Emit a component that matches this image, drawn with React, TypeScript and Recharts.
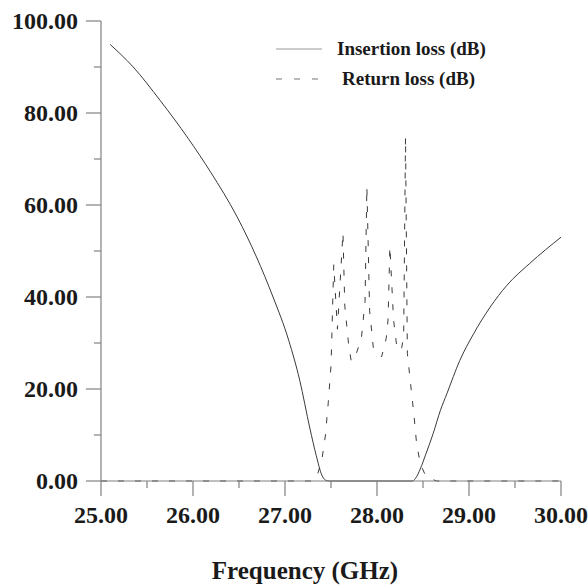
import React from "react";
import { LineChart, Line, XAxis, YAxis } from "recharts";

// insertion loss (solid)
const ilFreq = [25.1, 25.35, 25.64, 25.95, 26.19, 26.48, 26.69, 26.87, 27.04, 27.16, 27.27, 27.34, 27.4, 27.44, 27.48, 28.38, 28.42, 28.47, 28.53, 28.61, 28.69, 28.76, 28.9, 29.05, 29.23, 29.41, 29.66, 30.0];
const ilLoss = [94.9, 90.0, 82.8, 74.4, 67.2, 57.4, 48.7, 40.0, 30.6, 21.9, 11.5, 5.5, 1.3, 0.2, 0, 0, 0.6, 2.6, 5.8, 10.3, 15.4, 19.0, 26.2, 32.0, 37.8, 42.5, 47.3, 53.0];

// return loss (dashed)
const rlFreq = [25.0, 27.3, 27.35, 27.4, 27.44, 27.47, 27.5, 27.51, 27.52, 27.53, 27.57, 27.63, 27.65, 27.69, 27.72, 27.78, 27.83, 27.87, 27.89, 27.92, 27.96, 28.05, 28.1, 28.12, 28.14, 28.18, 28.22, 28.27, 28.29, 28.31, 28.33, 28.34, 28.36, 28.4, 28.43, 28.47, 28.52, 28.58, 28.65, 30.0];
const rlLoss = [0, 0, 1.2, 4.5, 10, 17, 25, 32, 40, 47, 33, 54, 38, 30, 26, 28, 31, 39, 64, 37, 29, 27, 31, 35, 51, 35, 28.4, 29, 32, 74.8, 27.7, 26, 22, 14.7, 8.2, 3.8, 1.5, 0.5, 0, 0];

const xTicks = [25, 25.5, 26, 26.5, 27, 27.5, 28, 28.5, 29, 29.5, 30];
const yTicks = [0, 10, 20, 30, 40, 50, 60, 70, 80, 90, 100];

const legendNames = ["Insertion loss (dB)", "Return loss (dB)"];

const insertionData = ilFreq.map((f, i) => ({ f, db: ilLoss[i] }));
const returnData = rlFreq.map((f, i) => ({ f, db: rlLoss[i] }));

const FONT = "'Liberation Serif', 'Times New Roman', serif";
const AXIS = "#808080";
const INK = "#1a1a1a";
const CURVE = "#3a3a3a";

const YTick = (props: any) => {
    const { x, y, payload } = props;
    const major = payload.value % 20 === 0;
    return (
        <g>
            <line x1={x - (major ? 15 : 7)} x2={x} y1={y} y2={y} stroke={AXIS} strokeWidth={1.2} />
            {major && (
                <text x={x - 23} y={y + 8} textAnchor="end" fill={INK}
                    style={{ fontFamily: FONT, fontWeight: 700, fontSize: 24 }}>
                    {payload.value.toFixed(2)}
                </text>
            )}
        </g>
    );
};

const XTick = (props: any) => {
    const { x, y, payload } = props;
    const major = Number.isInteger(payload.value);
    return (
        <g>
            <line x1={x} x2={x} y1={y} y2={y + (major ? 15 : 7)} stroke={AXIS} strokeWidth={1.2} />
            {major && (
                <text x={x} y={y + 42} textAnchor="middle" fill={INK}
                    style={{ fontFamily: FONT, fontWeight: 700, fontSize: 24 }}>
                    {payload.value.toFixed(2)}
                </text>
            )}
        </g>
    );
};

const AxisTitle = (props: any) => {
    const { viewBox } = props;
    return (
        <text x={viewBox.x + viewBox.width / 2 - 26} y={viewBox.y + 98} textAnchor="middle" fill={INK}
            style={{ fontFamily: FONT, fontWeight: 700, fontSize: 25 }}>
            Frequency (GHz)
        </text>
    );
};

export default function App() {
    return (
        <div style={{ position: "absolute", left: 0, top: 0, width: 588, height: 588, background: "#fff" }}>
            <LineChart width={588} height={588} margin={{ top: 21, right: 27, bottom: 0, left: 0 }}>
                <XAxis
                    dataKey="f"
                    type="number"
                    domain={[25, 30]}
                    ticks={xTicks}
                    interval={0}
                    height={107}
                    tickSize={0}
                    tickMargin={0}
                    axisLine={{ stroke: AXIS, strokeWidth: 1.2 }}
                    tickLine={false}
                    tick={<XTick />}
                    label={<AxisTitle />}
                    allowDataOverflow
                />
                <YAxis
                    type="number"
                    domain={[0, 100]}
                    ticks={yTicks}
                    interval={0}
                    width={101}
                    tickSize={0}
                    tickMargin={0}
                    axisLine={{ stroke: AXIS, strokeWidth: 1.2 }}
                    tickLine={false}
                    tick={<YTick />}
                />
                <Line data={returnData} dataKey="db" type="linear" stroke={CURVE} strokeWidth={1}
                    strokeDasharray="6 11" dot={false} activeDot={false} isAnimationActive={false} />
                <Line data={insertionData} dataKey="db" type="monotone" stroke={CURVE} strokeWidth={1}
                    dot={false} activeDot={false} isAnimationActive={false} />
            </LineChart>
            <svg width={588} height={100} style={{ position: "absolute", left: 0, top: 0, pointerEvents: "none" }}>
                <line x1={276} x2={322} y1={49} y2={49} stroke="#999" strokeWidth={1.2} />
                <text x={337} y={55} fill={INK} style={{ fontFamily: FONT, fontWeight: 700, fontSize: 19 }}>
                    {legendNames[0]}
                </text>
                <line x1={276} x2={322} y1={79} y2={79} stroke="#777" strokeWidth={1.2} strokeDasharray="6 12" />
                <text x={342} y={85} fill={INK} style={{ fontFamily: FONT, fontWeight: 700, fontSize: 19 }}>
                    {legendNames[1]}
                </text>
            </svg>
        </div>
    );
}
